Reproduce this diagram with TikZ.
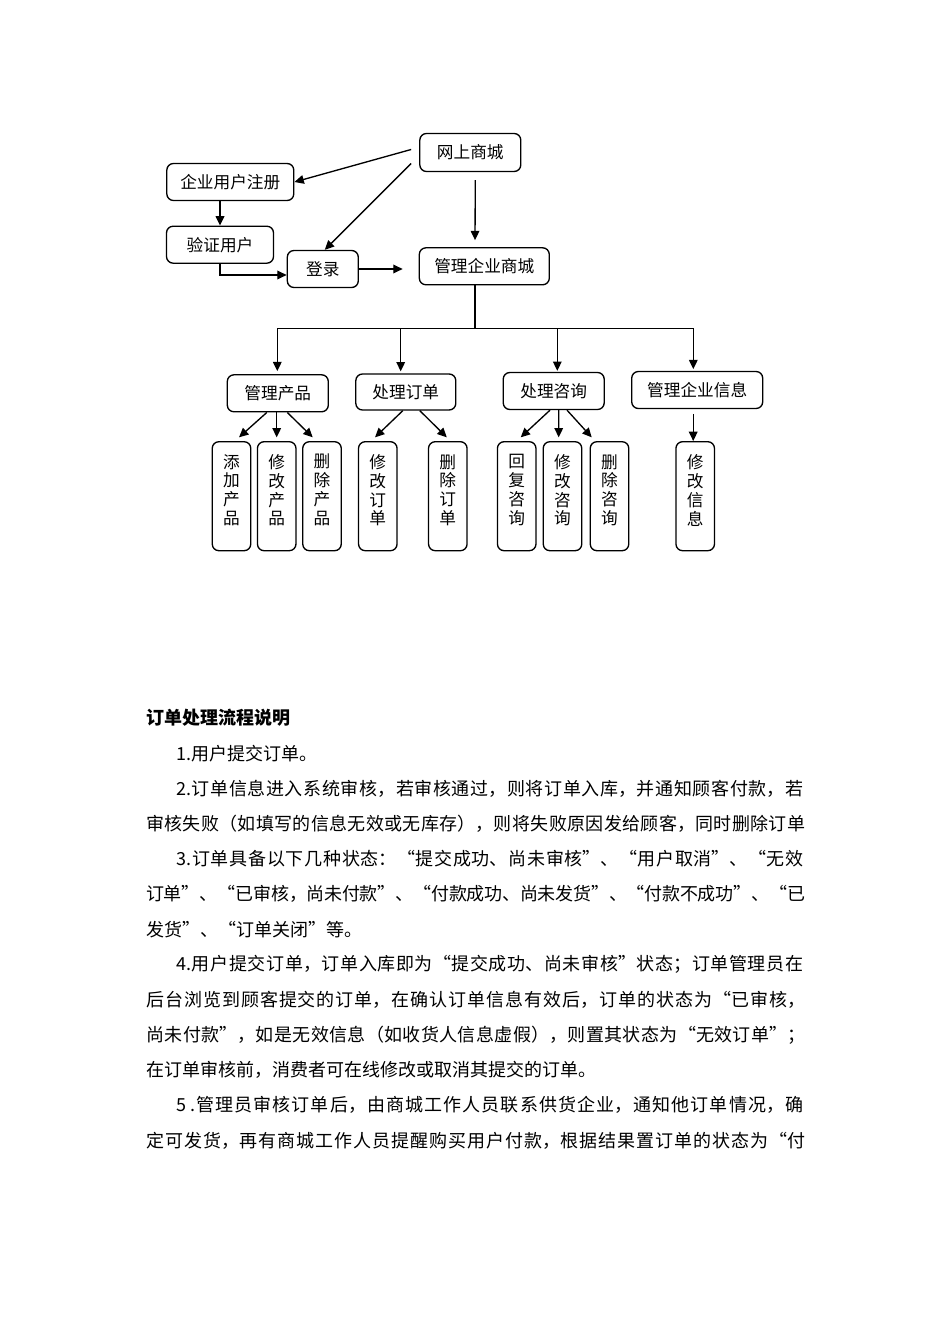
\documentclass[tikz,border=0pt]{standalone}
\usepackage{fontspec}
\setmainfont{Noto Sans CJK SC}
\usetikzlibrary{arrows.meta,calc}
\XeTeXlinebreaklocale "zh"
\XeTeXlinebreakskip=0pt plus 6pt minus 1pt
\newcommand\vtxt[4]{\vbox{\baselineskip=14.2pt\lineskip=0pt\hbox{#1}\hbox{#2}\hbox{#3}\hbox{#4}\kern9pt}}
\newcommand\jline[2]{\vbox{\hsize=#1\parindent=0pt\parfillskip=0pt\tolerance=10000\emergencystretch=0pt\leftskip=0pt\rightskip=0pt #2\par}}
\newcommand\fullline[1]{\jline{494.25pt}{#1}}
\newcommand\indline[1]{\jline{470.25pt}{#1}}
\tikzset{
  box/.style={draw, line width=1pt, rounded corners=5pt, inner sep=0pt, font=\fontsize{12.5}{15}\selectfont},
  leaf/.style={box, minimum width=28.9pt, minimum height=81.75pt},
  arr/.style={line width=1pt, -{Triangle[length=7pt,width=6.5pt]}},
  ln/.style={line width=1pt},
  body/.style={anchor=west, inner sep=0pt, font=\fontsize{13.5}{16}\selectfont},
}
\begin{document}
\begin{tikzpicture}[x=0.75pt,y=-0.75pt]
\fill[white] (0,0) rectangle (950,1344);
\useasboundingbox (0,0) rectangle (950,1344);

% top nodes
\node[box, minimum width=75.75pt, minimum height=28.5pt] (web) at (470.3,152.5) {网上商城};
\node[box, minimum width=95.25pt, minimum height=27.75pt] (reg) at (230.3,182) {企业用户注册};
\node[box, minimum width=80.25pt, minimum height=27.75pt] (ver) at (220,244.7) {验证用户};
\node[box, minimum width=53.25pt, minimum height=27.75pt] (login) at (322.8,269) {登录};
\node[box, minimum width=97.5pt, minimum height=27.75pt] (mall) at (484.3,266.3) {管理企业商城};

% second level
\node[box, minimum width=75.75pt, minimum height=27.75pt] (prod) at (277.8,393.3) {管理产品};
\node[box, minimum width=75pt, minimum height=27pt] (order) at (405.8,392) {处理订单};
\node[box, minimum width=75.75pt, minimum height=27.75pt] (consult) at (553.7,391) {处理咨询};
\node[box, minimum width=98.25pt, minimum height=27.75pt] (info) at (697.2,390) {管理企业信息};

% leaves
\node[leaf] (a1) at (231.5,496.2) {\vtxt{添}{加}{产}{品}};
\node[leaf] (a2) at (276.7,496.2) {\vtxt{修}{改}{产}{品}};
\node[leaf] (a3) at (322,496.2) {\vtxt{删}{除}{产}{品}};
\node[leaf] (b1) at (377.8,496.2) {\vtxt{修}{改}{订}{单}};
\node[leaf] (b2) at (447.8,496.2) {\vtxt{删}{除}{订}{单}};
\node[leaf] (c1) at (516.7,496.2) {\vtxt{回}{复}{咨}{询}};
\node[leaf] (c2) at (562.5,496.2) {\vtxt{修}{改}{咨}{询}};
\node[leaf] (c3) at (609.5,496.2) {\vtxt{删}{除}{咨}{询}};
\node[leaf] (d1) at (695.2,496.2) {\vtxt{修}{改}{信}{息}};

% top connectors
\draw[arr] ($(web.west)+(-8,-3)$) -- (reg.east);
\draw[arr] ($(web.west)+(-8,11)$) -- ($(login.north)+(2,0)$);
\draw[arr] ($(web.south)+(5,8)$) -- ($(mall.north)+(-9.3,-7)$);
\draw[arr] (reg.south -| ver.north) -- (ver.north);
\draw[arr] (ver.south) |- ($(login.west)+(0,6)$);
\draw[arr] (login.east) -- ($(login.east -| mall.west)+(-16,0)$);

% bus
\coordinate (busL) at (277.3,328.3);
\coordinate (busR) at (693.3,328.3);
\coordinate (busO) at (400.7,328.3);
\coordinate (busC) at (557.3,328.3);
\coordinate (mallout) at ($(mall.south)+(-9.3,0)$);
\draw[ln] (mallout) -- (mallout |- busL);
\draw[ln] (busL) -- (busR);
\draw[arr] (busL) -- ($(busL |- prod.north)+(0,-3)$);
\draw[arr] (busO) -- ($(busO |- order.north)+(0,-2)$);
\draw[arr] (busC) -- ($(busC |- consult.north)+(0,-1)$);
\draw[arr] (busR) -- ($(busR |- info.north)+(0,-1.7)$);

% leaf connectors
\draw[arr] ($(prod.south)+(-11,0)$) -- ($(a1.north)+(7.5,-3.7)$);
\draw[arr] (prod.south -| a2.north) -- ($(a2.north)+(0,-3.7)$);
\draw[arr] ($(prod.south)+(9.5,0)$) -- ($(a3.north)+(-9.3,-3.7)$);
\draw[arr] ($(order.south)+(-3,0)$) -- ($(b1.north)+(-2.8,-3.7)$);
\draw[arr] ($(order.south)+(14,0)$) -- ($(b2.north)+(-1,-3.7)$);
\draw[arr] ($(consult.south)+(-3.7,0)$) -- ($(c1.north)+(4,-3.7)$);
\draw[arr] ($(consult.south)+(5,0)$) -- ($(c2.north)+(-3.8,-3.7)$);
\draw[arr] ($(consult.south)+(13.3,0)$) -- ($(c3.north)+(-17.8,-3.7)$);
\draw[arr] ($(info.south)+(-4,4.7)$) -- ($(d1.north)+(-2,0)$);

% body text
\node[body] (t0) at (146,718) {\bfseries 订单处理流程说明};
\node[body] (t1) at (176,753.2) {1.用户提交订单。};
\node[body] (t2) at (176,788.4) {\indline{2.订单信息进入系统审核，若审核通过，则将订单入库，并通知顾客付款，若}};
\node[body] (t3) at (146,823.6) {\fullline{审核失败（如填写的信息无效或无库存），则将失败原因发给顾客，同时删除订单}};
\node[body] (t4) at (176,858.8) {\indline{3.订单具备以下几种状态：“提交成功、尚未审核”、“用户取消”、“无效}};
\node[body] (t5) at (146,894) {\fullline{订单”、“已审核，尚未付款”、“付款成功、尚未发货”、“付款不成功”、“已}};
\node[body] (t6) at (146,929.2) {发货”、“订单关闭”等。};
\node[body] (t7) at (176,964.4) {\indline{4.用户提交订单，订单入库即为“提交成功、尚未审核”状态；订单管理员在}};
\node[body] (t8) at (146,999.6) {\fullline{后台浏览到顾客提交的订单，在确认订单信息有效后，订单的状态为“已审核，}};
\node[body] (t9) at (146,1034.8) {\fullline{尚未付款”，如是无效信息（如收货人信息虚假），则置其状态为“无效订单”；}};
\node[body] (t10) at (146,1070) {在订单审核前，消费者可在线修改或取消其提交的订单。};
\node[body] (t11) at (176,1105.2) {\indline{5\kern3pt.管理员审核订单后，由商城工作人员联系供货企业，通知他订单情况，确}};
\node[body] (t12) at (146,1140.4) {\fullline{定可发货，再有商城工作人员提醒购买用户付款，根据结果置订单的状态为“付}};
\end{tikzpicture}
\end{document}
